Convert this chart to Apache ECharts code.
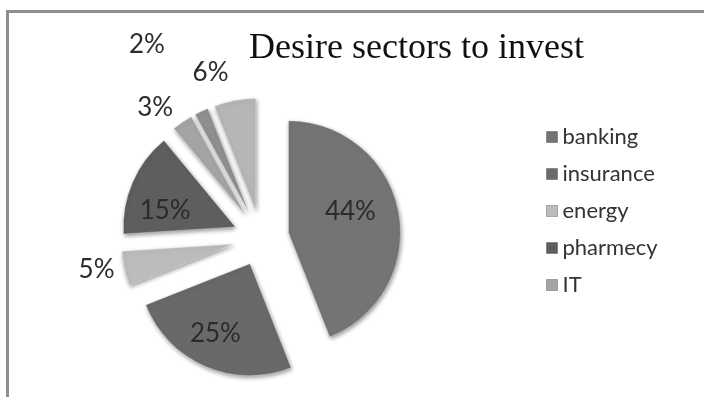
<!DOCTYPE html>
<html>
<head>
<meta charset="utf-8">
<style>
  html, body { margin: 0; padding: 0; background: #ffffff; }
  #wrap { position: relative; width: 704px; height: 397px; overflow: hidden; }
  #chart { position: absolute; left: 0; top: 0; width: 704px; height: 397px; }
  #frame { position: absolute; left: 6px; top: 10px; width: 700px; height: 400px;
           border-top: 3px solid #8e8e8e; border-left: 3px solid #8e8e8e; pointer-events: none; }
</style>
<script src="https://cdn.jsdelivr.net/npm/echarts@6/dist/echarts.min.js"></script>
</head>
<body>
<div id="wrap">
  <div id="chart"></div>
  <div id="frame"></div>
</div>
<script>
// Sectors and their share of respondents (%), clockwise from 12 o'clock
const sectors = ['banking', 'insurance', 'energy', 'pharmecy', 'IT', 'telecom', 'others'];
const shares = [44, 25, 5, 15, 3, 2, 6];
// Only the first five sectors appear in the legend box
const legendNames = ['banking', 'insurance', 'energy', 'pharmecy', 'IT'];

// Greyscale fills per sector
const fills = ['#747474', '#696969', '#bcbcbc', '#5e5e5e', '#a4a4a4', '#8f8f8f', '#b6b6b6'];

// Label placement per sector: big slices carry their label inside (nudged
// toward the rim), thin slices get it outside without a leader line
const labelPlacement = [
  { position: 'inside', shift: [4, -10] },
  { position: 'inside', shift: [-11, 16] },
  { position: 'outside', len: 5, len2: 0 },
  { position: 'inside', shift: [-16, 7] },
  { position: 'outside', len: 18, len2: -6 },
  { position: 'outside', len: 74, len2: 0 },
  { position: 'outside', len: 28, len2: -4 }
];

const pieData = sectors.map(function (name, i) {
  const p = labelPlacement[i];
  const item = {
    name: name,
    value: shares[i],
    selected: true,
    itemStyle: { color: fills[i] },
    label: { position: p.position }
  };
  if (p.position === 'outside') {
    item.labelLine = { show: false, length: p.len, length2: p.len2 };
  }
  return item;
});

const chart = echarts.init(document.getElementById('chart'), null, { renderer: 'canvas' });
chart.setOption({
  animation: false,
  backgroundColor: '#ffffff',
  color: fills,
  title: {
    text: 'Desire sectors to invest',
    left: 244,
    top: 26,
    textStyle: { fontFamily: 'Liberation Serif', fontSize: 36, fontWeight: 'normal', color: '#111111' }
  },
  legend: {
    orient: 'vertical',
    left: 541,
    top: 121,
    itemGap: 15,
    itemWidth: 11,
    itemHeight: 11,
    icon: 'rect',
    selectedMode: false,
    data: legendNames,
    itemStyle: { borderColor: 'rgba(0,0,0,0.25)', borderWidth: 1 },
    textStyle: { fontFamily: 'Lato', fontSize: 22, color: '#333333' }
  },
  series: [{
    type: 'pie',
    center: [261, 238],
    radius: [0, 112],
    startAngle: 90,
    clockwise: true,
    selectedMode: 'multiple',
    selectedOffset: 28,
    avoidLabelOverlap: false,
    minShowLabelAngle: 0,
    itemStyle: {
      borderColor: 'rgba(255,255,255,0.3)',
      borderWidth: 1,
      shadowBlur: 4,
      shadowColor: 'rgba(0,0,0,0.4)',
      shadowOffsetX: 1,
      shadowOffsetY: 2
    },
    label: {
      show: true,
      formatter: '{c}%',
      fontFamily: 'Lato',
      fontSize: 26,
      color: '#2b2b2b'
    },
    labelLine: { show: false },
    labelLayout: function (params) {
      const s = labelPlacement[params.dataIndex].shift;
      return s ? { dx: s[0], dy: s[1] } : {};
    },
    emphasis: { disabled: true },
    data: pieData
  }]
});
</script>
</body>
</html>
